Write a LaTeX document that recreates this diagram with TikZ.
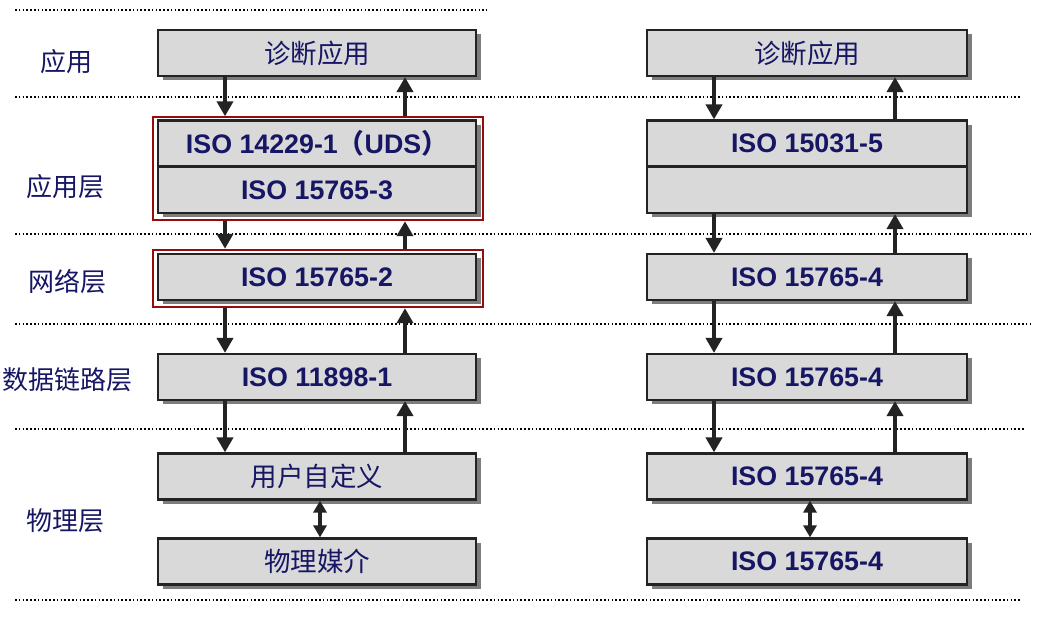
\documentclass[tikz,border=0pt]{standalone}
\usepackage{fontspec}
\setmainfont{Liberation Sans}
\newfontfamily\cjk{Noto Sans CJK SC}
\usetikzlibrary{arrows.meta,shadows,calc,fit}

\definecolor{txtblue}{RGB}{22,22,100}
\definecolor{boxgray}{RGB}{217,217,217}
\definecolor{edge}{RGB}{35,35,35}
\definecolor{framered}{RGB}{150,12,12}
\definecolor{shade}{RGB}{125,125,125}

\tikzset{
  layerbox/.style={draw=edge, line width=2.2pt, fill=boxgray, minimum width=318pt,
    minimum height=46pt, inner sep=0pt, text=txtblue,
    drop shadow={shadow xshift=4.5pt, shadow yshift=-4.5pt, fill=shade, opacity=1}},
  rightbox/.style={layerbox, minimum width=320pt},
  iso/.style={font=\fontsize{26.8}{30}\selectfont\bfseries},
  zh/.style={font=\fontsize{26.5}{30}\selectfont\cjk},
  lbl/.style={text=txtblue, font=\fontsize{26}{30}\selectfont\cjk},
  sep/.style={line width=1.6pt, dash pattern=on 1.6pt off 2.2pt},
  flow/.style={draw=edge, line width=4.3pt, -{Triangle[width=16pt,length=15pt]}},
  both/.style={draw=edge, line width=4pt,
    {Triangle[width=13pt,length=12pt]}-{Triangle[width=13pt,length=12pt]}},
  redframe/.style={draw=framered, line width=2.2pt, inner sep=0pt},
}

\begin{document}
\begin{tikzpicture}[x=1pt, y=-1pt]
\useasboundingbox (0,0) rectangle (1037,617);

% layer separators
\draw[sep] (15,10) -- (487,10);
\draw[sep] (15,97) -- (1020,97);
\draw[sep] (15,234) -- (1030,234);
\draw[sep] (15,324) -- (1030,324);
\draw[sep] (15,429) -- (1025,429);
\draw[sep] (15,600) -- (1020,600);

% layer names
\node[lbl] (l1) at (66,62) {应用};
\node[lbl] (l2) at (66,187) {应用层};
\node[lbl] (l3) at (67,282) {网络层};
\node[lbl] (l4) at (67,380) {数据链路层};
\node[lbl] (l5) at (66,521) {物理层};

% left stack
\node[layerbox, zh] (La) at (317,53) {诊断应用};
\node[layerbox, iso] (Lb) at (317,143.5) {ISO 14229-1{\cjk （}UDS{\cjk ）}};
\node[layerbox, iso] (Lc) at (317,190) {ISO 15765-3};
\node[layerbox, iso] (Ld) at (317,277) {ISO 15765-2};
\node[layerbox, iso] (Le) at (317,377) {ISO 11898-1};
\node[layerbox, zh] (Lf) at (317,476.5) {用户自定义};
\node[layerbox, zh] (Lg) at (317,561.5) {物理媒介};

% highlighted protocol layers
\node[redframe, fit={($(Lb.north west)+(-4,-2)$) ($(Lc.south east)+(6,6)$)}] (F1) {};
\node[redframe, fit={($(Ld.north west)+(-4,-3)$) ($(Ld.south east)+(6,6)$)}] (F2) {};

% right stack
\node[rightbox, zh] (Ra) at (807,53) {诊断应用};
\node[rightbox, iso] (Rb) at (807,143.5) {ISO 15031-5};
\node[rightbox] (Rc) at (807,190) {};
\node[rightbox, iso] (Rd) at (807,277) {ISO 15765-4};
\node[rightbox, iso] (Re) at (807,377) {ISO 15765-4};
\node[rightbox, iso] (Rf) at (807,476.5) {ISO 15765-4};
\node[rightbox, iso] (Rg) at (807,561.5) {ISO 15765-4};

% left flows
\draw[flow] ([xshift=-92pt]La.south) -- ([xshift=-92pt]La.south |- F1.north);
\draw[flow] ([xshift=88pt]La.south |- F1.north) -- ([xshift=88pt]La.south);
\draw[flow] ([xshift=-92pt]Lc.south |- F1.south) -- ([xshift=-92pt]Lc.south |- F2.north);
\draw[flow] ([xshift=88pt]Lc.south |- F2.north) -- ([xshift=88pt]Lc.south |- F1.south);
\draw[flow] ([xshift=-92pt]Ld.south |- F2.south) -- ([xshift=-92pt]Le.north);
\draw[flow] ([xshift=88pt]Le.north) -- ([xshift=88pt]Ld.south |- F2.south);
\draw[flow] ([xshift=-92pt]Le.south) -- ([xshift=-92pt]Lf.north);
\draw[flow] ([xshift=88pt]Lf.north) -- ([xshift=88pt]Le.south);
\draw[both] ([xshift=3pt]Lf.south) -- ([xshift=3pt]Lg.north);

% right flows
\draw[flow] ([xshift=-93pt]Ra.south) -- ([xshift=-93pt]Rb.north);
\draw[flow] ([xshift=88pt]Rb.north) -- ([xshift=88pt]Ra.south);
\draw[flow] ([xshift=-93pt]Rc.south) -- ([xshift=-93pt]Rd.north);
\draw[flow] ([xshift=88pt]Rd.north) -- ([xshift=88pt]Rc.south);
\draw[flow] ([xshift=-93pt]Rd.south) -- ([xshift=-93pt]Re.north);
\draw[flow] ([xshift=88pt]Re.north) -- ([xshift=88pt]Rd.south);
\draw[flow] ([xshift=-93pt]Re.south) -- ([xshift=-93pt]Rf.north);
\draw[flow] ([xshift=88pt]Rf.north) -- ([xshift=88pt]Re.south);
\draw[both] ([xshift=3pt]Rf.south) -- ([xshift=3pt]Rg.north);
\end{tikzpicture}
\end{document}
